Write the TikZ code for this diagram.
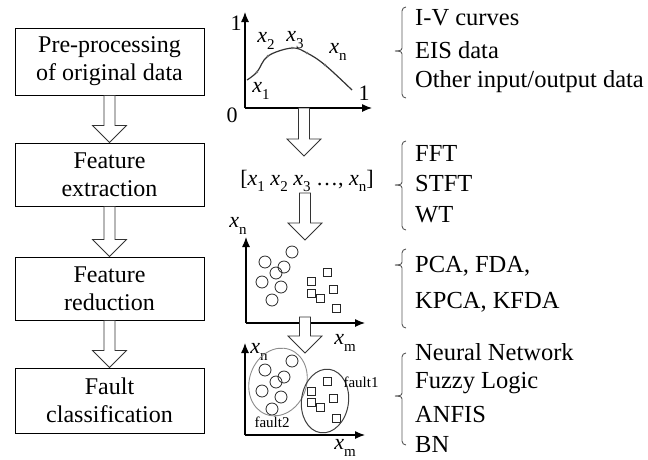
\documentclass[tikz,border=0pt]{standalone}
\usepackage{fontspec}
\setmainfont{Liberation Serif}
\usetikzlibrary{arrows.meta,calc,shapes.geometric}

% italic variable with upright subscript
\newcommand\var[1]{\textit{x}\raisebox{-0.28em}{\fontsize{15}{15}\selectfont #1}}

% hollow block arrow from the top of its shaft (#1) down to its tip (#2)
\newcommand\hollowdown[2]{%
  \draw[hollow] let \p1=(#1), \p2=(#2) in
    (\x2-5.5pt,\y1) -- (\x2-5.5pt,\y2+17pt) -- (\x2-17pt,\y2+17pt) -- (\x2,\y2)
    -- (\x2+17pt,\y2+17pt) -- (\x2+5.5pt,\y2+17pt) -- (\x2+5.5pt,\y1) -- cycle;}

% bracket with a small nose: top, nose and bottom heights
\newcommand\groupbrace[3]{%
  \draw[bracket] (406,#1) to[out=180,in=90] (402,#1+4) -- (402,#2-3)
    to[out=-90,in=0] (395,#2) to[out=0,in=90] (402,#2+3) -- (402,#3-4)
    to[out=-90,in=180] (406,#3);}

\tikzset{
  stage/.style={draw, line width=0.9pt, minimum width=189pt, align=center,
    inner sep=0pt, font=\fontsize{24}{28}\selectfont},
  item/.style={anchor=west, inner sep=0pt, font=\fontsize{24.5}{28}\selectfont},
  lbl/.style={inner sep=0pt, font=\fontsize{22}{24}\selectfont},
  small/.style={inner sep=0pt, font=\fontsize{15}{16}\selectfont},
  hollow/.style={draw=black!80, line width=0.8pt, fill=white},
  axis/.style={line width=1.1pt, -{Latex[length=10pt,width=8pt]}},
  bracket/.style={draw=black!65, line width=0.9pt},
  dot/.style={draw=black!85, line width=0.8pt},
  curve/.style={draw=black!80, line width=1.2pt},
}

\begin{document}
\begin{tikzpicture}[x=1pt,y=-1pt]
\useasboundingbox (0,0) rectangle (648,459);

% ---- processing stages
\node[stage, minimum height=67pt] (s1) at (109.5,61.5) {Pre-processing\\of original data};
\node[stage, minimum height=63pt] (s2) at (109.5,174.5) {Feature\\extraction};
\node[stage, minimum height=63pt] (s3) at (109.5,288.5) {Feature\\reduction};
\node[stage, minimum height=65pt] (s4) at (109.5,400.5) {Fault\\classification};

\hollowdown{s1.south}{s2.north}
\hollowdown{s2.south}{s3.north}
\hollowdown{s3.south}{s4.north}

% ---- raw data curve
\coordinate (o1) at (245,108);
\coordinate (y1) at (245,12);
\coordinate (x1) at (372,108);
\draw[axis] (o1) -- (y1);
\draw[axis] (o1) -- (x1);
\node[lbl] (one-y) at (236,23) {1};
\node[lbl] (zero) at (232,115) {0};
\node[lbl] (one-x) at (364,93) {1};
\draw[curve] plot[smooth, tension=0.6] coordinates
  {(247,80) (257,72) (268,56) (292,48) (307,53) (325,65) (352,90)};
\foreach \p in {(257,72),(268,56),(292,48),(307,53),(325,65)}
  \fill[black!55] \p circle (1.3);
\node[lbl] (l1) at (261,91) {\var{1}};
\node[lbl] (l2) at (266,41) {\var{2}};
\node[lbl] (l3) at (295,40) {\var{3}};
\node[lbl] (ln) at (338,52) {\var{n}};

% ---- feature vector
\coordinate (a1) at (304,108);
\coordinate (a1tip) at (304,156);
\hollowdown{a1}{a1tip}
\node[lbl] (vec) at (307,181) {[\var{1} \var{2} \var{3} \ldots, \var{n}]};

% ---- reduced features
\coordinate (a2) at (305,193);
\coordinate (a2tip) at (305,240);
\hollowdown{a2}{a2tip}
\coordinate (o2) at (246,323);
\coordinate (y2) at (246,237);
\coordinate (x2) at (365,323);
\draw[axis] (o2) -- (y2);
\draw[axis] (o2) -- (x2);
\node[lbl] (yn2) at (238,226) {\var{n}};
\node[lbl] (xm2) at (345,343) {\var{m}};
\foreach \p in {(292,252),(265,262),(284,267),(276,273),(262,282),(281,287),(272,300)}
  \draw[dot] \p circle (6);
\foreach \p in {(327,272),(311,281),(333,289),(311,293),(320,298),(336,308)}
  \draw[dot] \p ++(-4,-4) rectangle ++(8,8);

% ---- classified features
\coordinate (a3) at (305,317);
\coordinate (a3tip) at (305,353);
\hollowdown{a3}{a3tip}
\coordinate (o3) at (245,435);
\coordinate (y3) at (245,343);
\coordinate (x3) at (365,435);
\draw[axis] (o3) -- (y3);
\draw[axis] (o3) -- (x3);
\node[lbl] (yn3) at (259,352) {\var{n}};
\node[lbl] (xm3) at (345,448) {\var{m}};
\foreach \p in {(292,361),(265,370),(284,377),(276,382),(262,391),(281,397),(272,409)}
  \draw[dot] \p circle (6);
\foreach \p in {(327,381),(311,391),(333,398),(311,402),(320,407),(336,418)}
  \draw[dot] \p ++(-4,-4) rectangle ++(8,8);
\node[ellipse, draw=black!45, line width=0.9pt, minimum width=57pt, minimum height=69pt,
  inner sep=0pt, rotate=-20] (c2) at (278,382) {};
\node[ellipse, draw=black!75, line width=1pt, minimum width=47pt, minimum height=64pt,
  inner sep=0pt, rotate=-8] (c1) at (325,401) {};
\node[small] (f1) at (361,382) {fault1};
\node[small] (f2) at (272,422) {fault2};

% ---- method lists
\groupbrace{7}{51}{98}
\node[item] (t11) at (415,18) {I-V curves};
\node[item] (t12) at (415,50) {EIS data};
\node[item] (t13) at (415,82) {Other input/output data};

\groupbrace{141}{185}{230}
\node[item] (t21) at (415,153) {FFT};
\node[item] (t22) at (415,184) {STFT};
\node[item] (t23) at (415,215) {WT};

\groupbrace{249}{265}{328}
\node[item] (t31) at (415,266) {PCA, FDA,};
\node[item] (t32) at (415,302) {KPCA, KFDA};

\groupbrace{353}{396}{445}
\node[item] (t41) at (415,352) {Neural Network};
\node[item] (t42) at (415,383) {Fuzzy Logic};
\node[item] (t43) at (415,414) {ANFIS};
\node[item] (t44) at (415,445) {BN};
\end{tikzpicture}
\end{document}
